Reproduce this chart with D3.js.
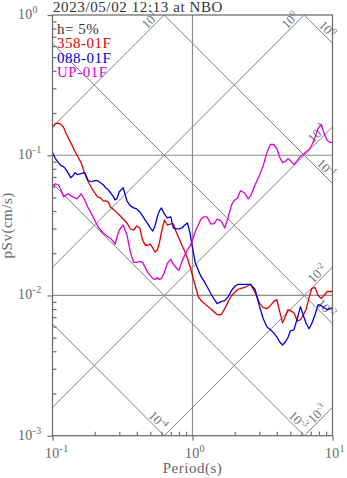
<!DOCTYPE html>
<html><head><meta charset="utf-8">
<script src="https://cdn.jsdelivr.net/npm/d3@7"></script>
<style>
html,body{margin:0;padding:0;background:#fff;}
svg{display:block;font-family:"Liberation Serif","DejaVu Serif",serif;}
</style></head>
<body><svg id="chart" width="347" height="478"></svg>
<script>
const title = "2023/05/02 12:13 at NBO";
const damping = "h= 5%";
const seriesNames = ["358-01F", "088-01F", "UP-01F"];
const seriesColors = ["#dd0000", "#0000dd", "#dd00dd"];
const xTickValues = [0.1, 1, 10];
const xTickExp = ["-1", "0", "1"];
const yTickValues = [0.001, 0.01, 0.1, 1];
const yTickExp = ["-3", "-2", "-1", "0"];
// acceleration (cm/s^2) and displacement (cm) reference lines
const accelLines = [10, 1, 0.1, 0.01, 0.001];
const accelExp = ["1", "0", "-1", "-2", "-3"];
const dispLines = [1, 0.1, 0.01, 0.001, 0.0001];
const dispExp = ["0", "-1", "-2", "-3", "-4"];

const periods = [0.10,0.105,0.11,0.115,0.12,0.125,0.13,0.135,0.14,0.145,0.15,
0.16,0.17,0.18,0.19,0.20,0.21,0.22,0.23,0.24,0.25,0.26,0.27,0.28,0.29,0.30,
0.32,0.34,0.36,0.38,0.40,0.42,0.44,0.46,0.48,0.50,0.52,0.54,0.56,0.58,0.60,
0.63,0.66,0.70,0.73,0.76,0.80,0.84,0.88,0.92,0.96,
1.00,1.05,1.10,1.15,1.20,1.27,1.35,1.42,1.50,1.60,1.70,1.80,1.90,2.00,
2.1,2.2,2.35,2.5,2.6,2.8,3.0,3.2,3.4,3.6,3.8,4.0,4.2,4.4,4.6,4.8,5.0,
5.3,5.6,5.9,6.2,6.5,6.8,7.1,7.5,7.9,8.3,8.7,9.2,9.6,10.0];

const sv358 = [0.158,0.169,0.169,0.166,0.158,0.143,0.132,0.123,0.114,0.106,0.0995,
0.0886,0.0739,0.0647,0.0586,0.0540,0.0505,0.0496,0.0473,0.0473,0.0465,0.0428,0.0414,0.0401,0.0388,0.0375,
0.0351,0.0329,0.0298,0.0293,0.0313,0.0303,0.0248,0.0228,0.0228,0.0232,0.0218,0.0204,0.0211,0.0236,0.0283,
0.0345,0.0318,0.0324,0.0324,0.0288,0.0256,0.0228,0.0207,0.0184,0.0161,
0.01385,0.01159,0.00982,0.00919,0.00889,0.00846,0.00805,0.00766,0.00729,0.00729,0.00805,0.00904,0.00999,0.01049,
0.01103,0.01121,0.0114,0.01178,0.01198,0.01049,0.00889,0.00818,0.00805,0.00846,0.00904,0.00934,0.00766,0.00638,0.00705,0.00792,0.00779,
0.00753,0.0066,0.00671,0.00729,0.00805,0.00966,0.01121,0.0114,0.00999,0.0095,0.00999,0.01067,0.01067,0.01067];

const sv088 = [0.1046,0.0947,0.0886,0.0843,0.0829,0.0789,0.0739,0.0692,0.0715,0.0752,0.0727,
0.0739,0.0752,0.0658,0.0647,0.0658,0.0658,0.0637,0.0616,0.0586,0.0567,0.0540,0.0513,0.0480,0.0496,0.0549,
0.0586,0.0473,0.0435,0.0421,0.0414,0.0394,0.0369,0.0345,0.0324,0.0303,0.0288,0.0313,0.0363,0.0401,0.0421,
0.0382,0.0357,0.0363,0.0303,0.0298,0.0298,0.0303,0.0318,0.0329,0.0279,
0.0218,0.0169,0.0151,0.01367,0.0128,0.01159,0.01032,0.0095,0.00875,0.00904,0.00919,0.00982,0.01085,0.01159,
0.01198,0.01198,0.01198,0.01198,0.01198,0.01103,0.00846,0.00682,0.00598,0.00569,0.00541,0.00507,0.00466,0.00443,0.00466,0.00499,0.0056,
0.00569,0.00682,0.00832,0.00717,0.00628,0.00579,0.00628,0.00729,0.0086,0.00846,0.00818,0.00792,0.00805,0.00818];

const svUP = [0.0586,0.0626,0.0616,0.0567,0.0505,0.0522,0.0531,0.0513,0.0505,0.0496,0.0488,
0.0531,0.0480,0.0421,0.0382,0.0345,0.0313,0.0293,0.0279,0.0270,0.0261,0.0256,0.0244,0.0232,0.0265,0.0293,
0.0318,0.0270,0.0204,0.0172,0.0172,0.0175,0.0172,0.0158,0.01456,0.01385,0.01323,0.01301,0.01345,0.01301,0.01323,
0.01456,0.0169,0.0181,0.0167,0.0158,0.0151,0.0175,0.0194,0.0211,0.0225,
0.0248,0.0288,0.0318,0.0351,0.0363,0.0363,0.0324,0.0324,0.0351,0.0340,0.0303,0.0363,0.0443,0.0480,
0.0496,0.0558,0.0540,0.0488,0.0513,0.0616,0.0715,0.0843,0.1046,0.1193,0.1193,0.1117,0.0963,0.0886,0.0901,0.0947,0.0916,
0.0857,0.0916,0.0979,0.1012,0.1063,0.1099,0.1174,0.1340,0.1555,0.1662,0.1432,0.1275,0.1234,0.1234];

const seriesValues = [sv358, sv088, svUP];

const svg = d3.select("#chart");
const L = 52.5, R = 332.5, T = 15, B = 435.7;
const x = d3.scaleLog().domain([0.1, 10]).range([L, R]);
const y = d3.scaleLog().domain([0.001, 1]).range([B, T]);
const TWO_PI = 2 * Math.PI;

svg.append("defs").append("clipPath").attr("id", "plotclip")
  .append("rect").attr("x", L).attr("y", T).attr("width", R - L).attr("height", B - T);

// tripartite diagonal lines
const diag = svg.append("g").attr("clip-path", "url(#plotclip)")
  .attr("stroke", "#808080").attr("stroke-width", 1).attr("fill", "none");
accelLines.forEach(A => {
  diag.append("line")
    .attr("x1", x(0.01)).attr("y1", y(A * 0.01 / TWO_PI))
    .attr("x2", x(1000)).attr("y2", y(A * 1000 / TWO_PI));
});
dispLines.forEach(D => {
  diag.append("line")
    .attr("x1", x(0.01)).attr("y1", y(TWO_PI * D / 0.01))
    .attr("x2", x(1000)).attr("y2", y(TWO_PI * D / 1000));
});

// grid lines
const grid = svg.append("g").attr("stroke", "#8c8c8c").attr("stroke-width", 1.2);
[0.01, 0.1].forEach(v => grid.append("line").attr("x1", L).attr("x2", R).attr("y1", y(v)).attr("y2", y(v)));
[1].forEach(v => grid.append("line").attr("x1", x(v)).attr("x2", x(v)).attr("y1", T).attr("y2", B));

// diagonal labels
function diagLabel(px, py, ascending, exp) {
  const ang = ascending ? -45 : 45;
  const ux = Math.SQRT1_2, uy = ascending ? -Math.SQRT1_2 : Math.SQRT1_2;
  const d = 5;
  const g = svg.append("g")
    .attr("transform", `translate(${px - ux * d},${py - uy * d}) rotate(${ang})`);
  const t = g.append("text").attr("text-anchor", "end").attr("dy", -2)
    .attr("fill", "#707070").attr("font-size", 13);
  t.append("tspan").text("10");
  t.append("tspan").attr("font-size", 9).attr("dy", -5).text(exp);
}
accelLines.forEach((A, i) => {
  const tTop = TWO_PI * 1 / A;
  if (tTop <= 10) diagLabel(x(tTop), y(1), true, accelExp[i]);
  else diagLabel(x(10), y(A * 10 / TWO_PI), true, accelExp[i]);
});
dispLines.forEach((D, i) => {
  const svRight = TWO_PI * D / 10;
  if (svRight >= 0.001) diagLabel(x(10), y(svRight), false, dispExp[i]);
  else diagLabel(x(TWO_PI * D / 0.001), y(0.001), false, dispExp[i]);
});

// curves
const line = d3.line().x(d => x(d[0])).y(d => y(d[1]));
const curves = svg.append("g").attr("clip-path", "url(#plotclip)");
seriesValues.forEach((vals, i) => {
  curves.append("path")
    .attr("d", line(periods.map((p, j) => [p, vals[j]])))
    .attr("fill", "none").attr("stroke", seriesColors[i]).attr("stroke-width", 1.3)
    .attr("stroke-linejoin", "round");
});

// frame
svg.append("rect").attr("x", L).attr("y", T).attr("width", R - L).attr("height", B - T)
  .attr("fill", "none").attr("stroke", "#707070").attr("stroke-width", 1.3);

// axes ticks
const minorX = [], minorY = [];
[0.1, 1].forEach(dec => { for (let k = 2; k <= 9; k++) minorX.push(dec * k); });
[0.001, 0.01, 0.1].forEach(dec => { for (let k = 2; k <= 9; k++) minorY.push(dec * k); });

function styleAxis(g) {
  g.select(".domain").remove();
  g.selectAll("line").attr("stroke", "#707070").attr("stroke-width", 1.2);
  g.selectAll("text").remove();
}
svg.append("g").attr("transform", `translate(0,${B})`)
  .call(d3.axisBottom(x).tickValues(xTickValues).tickSize(5).tickSizeOuter(0).tickFormat(""))
  .call(styleAxis);
svg.append("g").attr("transform", `translate(0,${B})`)
  .call(d3.axisTop(x).tickValues(minorX).tickSize(4).tickSizeOuter(0).tickFormat(""))
  .call(styleAxis);
svg.append("g").attr("transform", `translate(${L},0)`)
  .call(d3.axisLeft(y).tickValues(yTickValues).tickSize(5).tickSizeOuter(0).tickFormat(""))
  .call(styleAxis);
svg.append("g").attr("transform", `translate(${L},0)`)
  .call(d3.axisRight(y).tickValues(minorY).tickSize(4).tickSizeOuter(0).tickFormat(""))
  .call(styleAxis);

// tick labels
xTickValues.forEach((v, i) => {
  const t = svg.append("text").attr("x", x(v) - 7.5).attr("y", 458)
    .attr("fill", "#666").attr("font-size", 14).attr("letter-spacing", 0.3);
  t.append("tspan").text("10");
  t.append("tspan").attr("font-size", 10).attr("dy", -6).text(xTickExp[i]);
});
yTickValues.forEach((v, i) => {
  const t = svg.append("text").attr("x", 18).attr("y", y(v) + 4)
    .attr("fill", "#666").attr("font-size", 14).attr("letter-spacing", 0.3);
  t.append("tspan").text("10");
  t.append("tspan").attr("font-size", 10).attr("dy", -6).text(yTickExp[i]);
});

// axis titles
svg.append("text").attr("x", (L + R) / 2).attr("y", 473).attr("text-anchor", "middle")
  .attr("fill", "#666").attr("font-size", 15).attr("letter-spacing", 0.5).text("Period(s)");
svg.append("text").attr("transform", `translate(12,${(T + B) / 2}) rotate(-90)`)
  .attr("text-anchor", "middle").attr("fill", "#666").attr("font-size", 15)
  .attr("letter-spacing", 0.5).text("pSv(cm/s)");

// title
svg.append("text").attr("x", 53).attr("y", 11.5).attr("fill", "#333").attr("font-size", 15)
  .attr("letter-spacing", 0.6).text(title);

// legend
const leg = svg.append("g").attr("font-size", 15).attr("letter-spacing", 0.5);
leg.append("text").attr("x", 57).attr("y", 33.5).attr("fill", "#333").text(damping);
seriesNames.forEach((n, i) => {
  leg.append("text").attr("x", 57).attr("y", 48 + i * 14.7).attr("fill", seriesColors[i]).text(n);
});
</script></body></html>
